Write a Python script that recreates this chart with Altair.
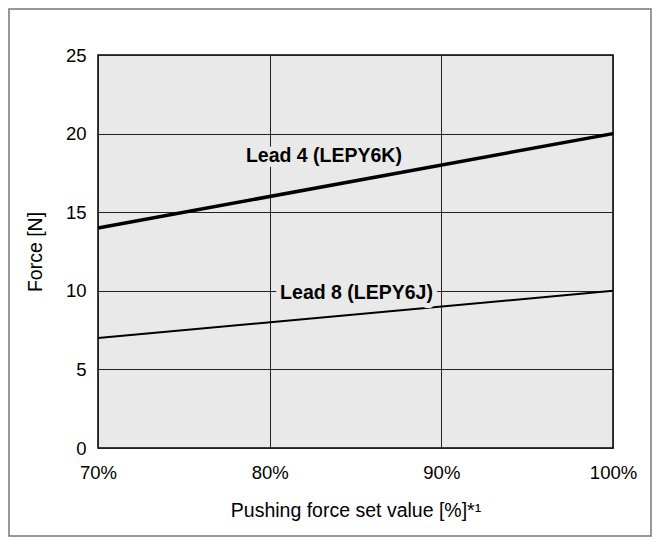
import altair as alt
import pandas as pd

set_values = [70, 100]
lead4_force = [14, 20]
lead8_force = [7, 10]
series_names = ["Lead 4 (LEPY6K)", "Lead 8 (LEPY6J)"]
label_x = [83.16, 85.06]
label_y = [18.57, 9.89]
x_ticks = [70, 80, 90, 100]
y_ticks = [0, 5, 10, 15, 20, 25]

rows = []
for s, ys in zip(series_names, [lead4_force, lead8_force]):
    for x, y in zip(set_values, ys):
        rows.append({"series": s, "set": x, "force": y})
df = pd.DataFrame(rows)
labels = pd.DataFrame({"series": series_names, "set": label_x, "force": label_y})

FONT = "Liberation Sans"
BG = "#e8e9e8"

x_enc = alt.X("set:Q", scale=alt.Scale(domain=[70, 100], nice=False),
              axis=alt.Axis(values=x_ticks, labelExpr="datum.value + '%'",
                            title="Pushing force set value [%]*¹", grid=True,
                            ticks=False, domain=False, labelPadding=15,
                            titlePadding=20, labelFontSize=18.5, titleFontSize=19.5,
                            labelFont=FONT, titleFont=FONT, labelColor="#000",
                            titleColor="#000", titleFontWeight="normal",
                            gridColor="#222", gridWidth=1, gridOpacity=1,
                            labelFlush=False))
y_enc = alt.Y("force:Q", scale=alt.Scale(domain=[0, 25], nice=False),
              axis=alt.Axis(values=y_ticks, title="Force [N]", grid=True,
                            ticks=False, domain=False, labelPadding=12,
                            titlePadding=20, labelFontSize=18.5, titleFontSize=19.5,
                            labelFont=FONT, titleFont=FONT, labelColor="#000",
                            titleColor="#000", titleFontWeight="normal",
                            gridColor="#222", gridWidth=1, gridOpacity=1))

frame = alt.Chart(pd.DataFrame({"a": [0]})).mark_rect(
    fill=None, stroke="#777", strokeWidth=1.5
).encode(x=alt.value(-89), x2=alt.value(553), y=alt.value(-46), y2=alt.value(481))

lines = alt.Chart(df).mark_line(color="#000").encode(
    x=x_enc, y=y_enc,
    detail="series:N",
    strokeWidth=alt.StrokeWidth("series:N",
                                scale=alt.Scale(domain=series_names, range=[3.5, 2]),
                                legend=None),
)

halo = alt.Chart(labels).mark_text(
    font=FONT, fontSize=19.5, fontWeight="bold", color=BG, stroke=BG,
    strokeWidth=10, strokeJoin="round"
).encode(x="set:Q", y="force:Q", text="series:N")

text = alt.Chart(labels).mark_text(
    font=FONT, fontSize=19.5, fontWeight="bold", color="#000"
).encode(x="set:Q", y="force:Q", text="series:N")

chart = alt.layer(frame, lines, halo, text).properties(
    width=515, height=393,
    autosize=alt.AutoSizeParams(type="none"),
    padding={"left": 90, "top": 47, "right": 39, "bottom": 89},
    background="white",
).configure_view(fill=BG, stroke="#000", strokeWidth=1.5)

chart.save("out.html", embed_options={"renderer": "svg", "actions": False})
